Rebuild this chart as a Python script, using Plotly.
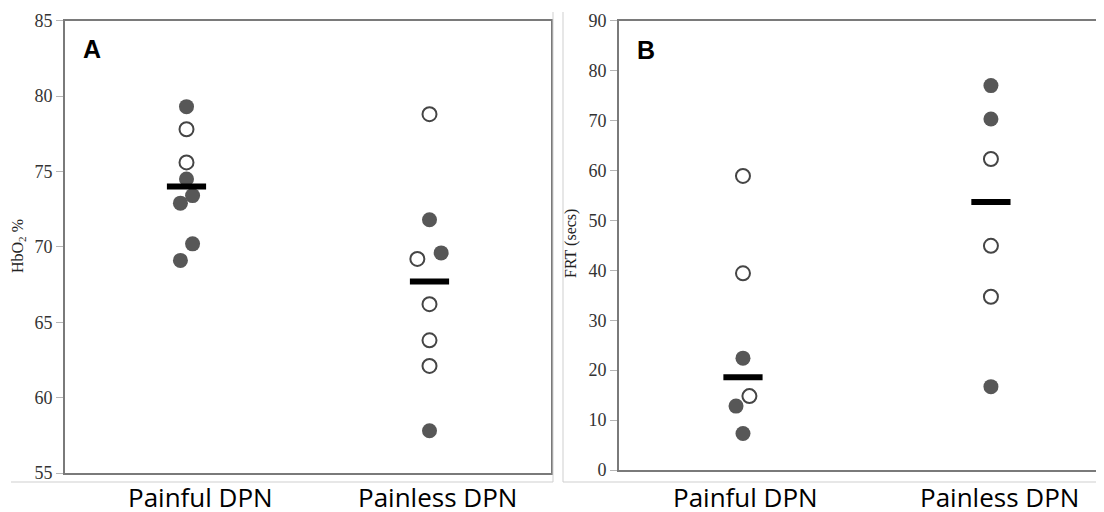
import plotly.graph_objects as go

# ---------------- data ----------------
categories = ["Painful DPN", "Painless DPN"]

# Panel A: HbO2 %
a_painful_vals = [79.3, 77.8, 75.6, 74.5, 73.4, 72.9, 70.2, 69.1]
a_painful_filled = [1, 0, 0, 1, 1, 1, 1, 1]
a_painful_jitter = [0, 0, 0, 0, 0.025, -0.025, 0.025, -0.025]

a_painless_vals = [78.8, 71.8, 69.6, 69.2, 66.2, 63.8, 62.1, 57.8]
a_painless_filled = [0, 1, 1, 0, 0, 0, 0, 1]
a_painless_jitter = [0, 0, 0.048, -0.05, 0, 0, 0, 0]

a_means = [74.0, 67.7]

# Panel B: FRT (secs)
b_painful_vals = [58.9, 39.4, 22.4, 14.8, 12.8, 7.3]
b_painful_filled = [0, 0, 1, 0, 1, 1]
b_painful_jitter = [0, 0, 0, 0.026, -0.028, 0]

b_painless_vals = [77.0, 70.3, 62.3, 44.9, 34.7, 16.7]
b_painless_filled = [1, 1, 0, 0, 0, 1]
b_painless_jitter = [0, 0, 0, 0, 0, 0]

b_means = [18.6, 53.7]

a_yticks = [55, 60, 65, 70, 75, 80, 85]
b_yticks = [0, 10, 20, 30, 40, 50, 60, 70, 80, 90]

# ---------------- styles / layout helpers ----------------
FILL = "#575757"
EDGE = "#454545"
FRAME = "#7a7a7a"
OFF = 8                      # page body margin of the html page
W, H = 1104 - OFF, 512 - OFF


def px(x):
    return (x - OFF) / W


def py(y):
    return 1 - (y - OFF) / H


fig = go.Figure()


def add_points(vals_list, filled_list, jitter_list, xa, ya):
    fx, fy, ox, oy = [], [], [], []
    for ci, (vals, filled, jit) in enumerate(zip(vals_list, filled_list, jitter_list)):
        for v, f, j in zip(vals, filled, jit):
            if f:
                fx.append(ci + j); fy.append(v)
            else:
                ox.append(ci + j); oy.append(v)
    fig.add_trace(go.Scatter(x=ox, y=oy, mode="markers", xaxis=xa, yaxis=ya,
                             marker=dict(size=14, color="white", line=dict(color=EDGE, width=2)),
                             showlegend=False, hoverinfo="y"))
    fig.add_trace(go.Scatter(x=fx, y=fy, mode="markers", xaxis=xa, yaxis=ya,
                             marker=dict(size=15, color=FILL, line=dict(width=0)),
                             showlegend=False, hoverinfo="y"))


def add_means(means, xa, ya):
    fig.add_trace(go.Scatter(x=list(range(len(means))), y=means, mode="markers",
                             xaxis=xa, yaxis=ya,
                             marker=dict(symbol="line-ew", size=28,
                                         line=dict(color="black", width=6)),
                             showlegend=False, hoverinfo="y"))


add_points([a_painful_vals, a_painless_vals], [a_painful_filled, a_painless_filled],
           [a_painful_jitter, a_painless_jitter], "x", "y")
add_means(a_means, "x", "y")
add_points([b_painful_vals, b_painless_vals], [b_painful_filled, b_painless_filled],
           [b_painful_jitter, b_painless_jitter], "x2", "y2")
add_means(b_means, "x2", "y2")

tickfont = dict(family="Liberation Serif, Times New Roman, serif", size=18, color="#333333")

axis_common = dict(showgrid=False, zeroline=False, showline=True, linecolor=FRAME,
                   linewidth=2, automargin=False)

fig.update_layout(
    width=W, height=H,
    margin=dict(l=0, r=0, t=0, b=0, autoexpand=False),
    paper_bgcolor="white", plot_bgcolor="white",
    xaxis=dict(domain=[px(65), px(551)], range=[-0.5, 1.5], mirror=True,
               showticklabels=False, ticks="", **axis_common),
    yaxis=dict(domain=[py(473), py(20.7)], range=[55, 85], mirror=True,
               tickvals=a_yticks, ticks="outside", ticklen=7, tickcolor="#b5b5b5",
               tickwidth=1, tickfont=tickfont, **axis_common),
    xaxis2=dict(domain=[px(619), 1.0], range=[-0.5, 1.456], mirror=True, anchor="y2",
                showticklabels=False, ticks="", **axis_common),
    yaxis2=dict(domain=[py(470), py(20.7)], range=[0, 90], anchor="x2",
                tickvals=b_yticks, ticks="outside", ticklen=7, tickcolor="#b5b5b5",
                tickwidth=1, tickfont=tickfont, **axis_common),
)

# outer light frames of the two panel images
light = dict(color="#cfcfcf", width=1)
fig.add_shape(type="line", xref="paper", yref="paper", x0=px(11), x1=px(553),
              y0=py(482), y1=py(482), line=light)
fig.add_shape(type="line", xref="paper", yref="paper", x0=px(553), x1=px(553),
              y0=py(482), y1=py(12), line=light)
fig.add_shape(type="line", xref="paper", yref="paper", x0=px(563), x1=1.0,
              y0=py(482), y1=py(482), line=light)
fig.add_shape(type="line", xref="paper", yref="paper", x0=px(563), x1=px(563),
              y0=py(482), y1=py(12), line=light)

catfont = dict(family="Open Sans, Lato, sans-serif", size=26, color="black")
label_x = [[200, 437], [745, 999]]
for panel in label_x:
    for cx, name in zip(panel, categories):
        fig.add_annotation(xref="paper", yref="paper", x=px(cx), y=py(497),
                           text=name, showarrow=False, font=catfont,
                           xanchor="center", yanchor="middle", height=26,
                           valign="middle", borderpad=0)

letterfont = dict(family="Liberation Sans, Arial, sans-serif", size=25, color="black")
fig.add_annotation(xref="paper", yref="paper", x=px(81), y=py(49), text="<b>A</b>",
                   showarrow=False, font=letterfont, xanchor="left", yanchor="middle")
fig.add_annotation(xref="paper", yref="paper", x=px(635), y=py(50), text="<b>B</b>",
                   showarrow=False, font=letterfont, xanchor="left", yanchor="middle")

titlefont = dict(family="Liberation Serif, Times New Roman, serif", size=16, color="#222")
fig.add_annotation(xref="paper", yref="paper", x=px(18), y=py(246),
                   text="HbO<sub>2</sub> %", textangle=-90, showarrow=False,
                   font=titlefont, xanchor="center", yanchor="middle")
fig.add_annotation(xref="paper", yref="paper", x=px(571), y=py(244),
                   text="FRT (secs)", textangle=-90, showarrow=False,
                   font=titlefont, xanchor="center", yanchor="middle")

fig.write_html("out.html")
